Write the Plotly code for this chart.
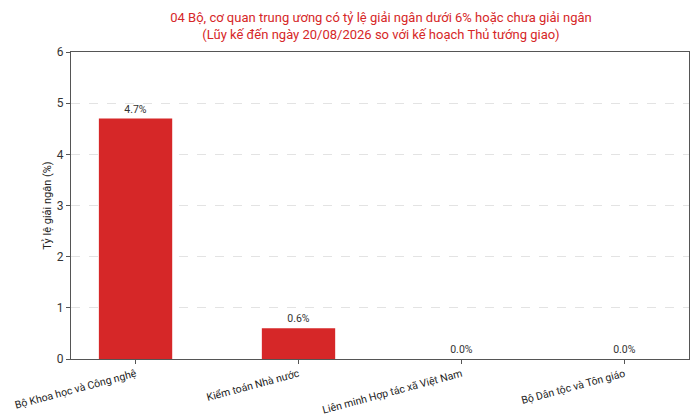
import plotly.graph_objects as go

categories = ["Bộ Khoa học và Công nghệ", "Kiểm toán Nhà nước",
              "Liên minh Hợp tác xã Việt Nam", "Bộ Dân tộc và Tôn giáo"]
rates = [4.7, 0.6, 0.0, 0.0]
labels = [f"{v:.1f}%" for v in rates]

title_text = ("04 Bộ, cơ quan trung ương có tỷ lệ giải ngân dưới 6% hoặc chưa giải ngân<br>"
              "(Lũy kế đến ngày 20/08/2026 so với kế hoạch Thủ tướng giao)")

fig = go.Figure(go.Bar(
    x=list(range(len(categories))),
    y=rates,
    width=0.45,
    marker=dict(color="#d62728", line=dict(width=0)),
    text=labels,
    textposition="outside",
    cliponaxis=False,
    textfont=dict(size=10.5, color="#333333"),
))

# the page puts the figure 8px in from the corner, so size it to fit the window
fig.update_layout(
    width=692,
    height=412,
    margin=dict(l=63, r=11, t=44, b=61),
    paper_bgcolor="white",
    plot_bgcolor="white",
    font=dict(family="Roboto", color="#222222"),
    title=dict(text=title_text, x=0.539, xanchor="center", y=0.966, yanchor="top",
               font=dict(size=13, color="#d62728")),
    showlegend=False,
)

fig.update_xaxes(
    range=[-0.396, 3.396],
    tickvals=list(range(len(categories))),
    ticktext=categories,
    tickangle=-15,
    tickfont=dict(size=10.5, color="#222222"),
    ticks="outside", ticklen=4, tickcolor="#555555",
    showline=True, linecolor="#555555", linewidth=1, mirror=True,
    showgrid=False, zeroline=False, automargin=False,
)
fig.update_yaxes(
    range=[0, 6],
    dtick=1,
    title=dict(text="Tỷ lệ giải ngân (%)", font=dict(size=11, color="#222222"), standoff=2),
    tickfont=dict(size=12, color="#333333"),
    ticks="outside", ticklen=4, tickcolor="#555555",
    showline=True, linecolor="#555555", linewidth=1, mirror=True,
    showgrid=True, gridcolor="#e3e3e3", griddash="dash", gridwidth=1,
    zeroline=False, automargin=False,
)

fig.write_html("out.html")
